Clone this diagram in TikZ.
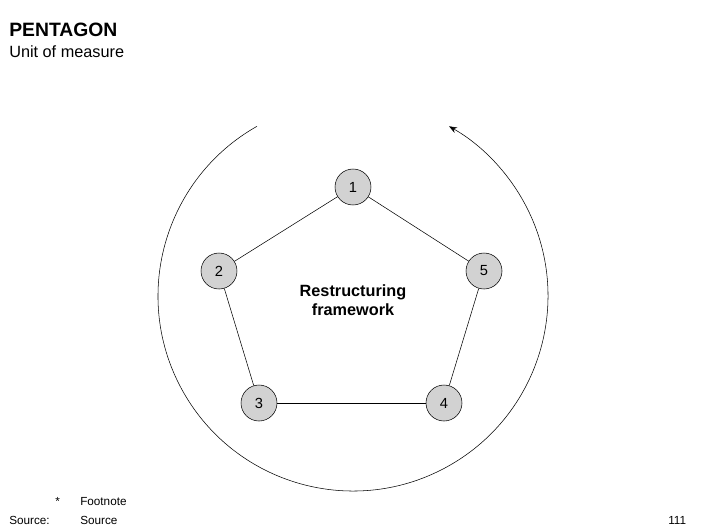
\documentclass[tikz,border=0pt]{standalone}
\usepackage{fontspec}
\setmainfont{Liberation Sans}
\usetikzlibrary{arrows.meta,positioning}
\tikzset{station/.style={draw,circle,fill=gray!35,minimum size=36*0.75pt,inner sep=0pt,font=\fontsize{11}{12}\selectfont},
  link/.style={thin},
  arr/.style={-{Stealth[length=6pt,width=4.5pt]},thin},
  note/.style={anchor=west,inner sep=0pt,font=\fontsize{8.8}{10}\selectfont}}
\begin{document}
\begin{tikzpicture}[x=0.75pt,y=-0.75pt]
\useasboundingbox (0,0) rectangle (706,529);
\node[anchor=west,inner sep=0pt,font=\bfseries\fontsize{14.5}{16}\selectfont] (title) at (9,30){PENTAGON};
\node[anchor=west,inner sep=0pt,font=\fontsize{12.2}{14}\selectfont] (unit) at (9,52){Unit of measure};
% cycle arrow
\draw[arr] (353,296) ++(-119.5:195) arc[start angle=-119.5,end angle=-420.5,radius=195];
\node[station] (n1) at (353,187){1};
\node[station] (n2) at (219,271){2};
\node[station] (n3) at (259,403){3};
\node[station] (n4) at (444,403){4};
\node[station] (n5) at (484,271){5};
\draw[link] (n1)--(n2); \draw[link] (n2)--(n3); \draw[link] (n3)--(n4);
\draw[link] (n4)--(n5); \draw[link] (n5)--(n1);
\node[align=center,font=\bfseries\fontsize{12.2}{14.5}\selectfont] (core) at (353,300){Restructuring\\framework};
\node[note,anchor=base west] (star) at (55,505){*}; \node[note] (foot) at (80,502){Footnote};
\node[note] (srclbl) at (9,520){Source:}; \node[note] (src) at (80,520){Source};
\node[note] (page) at (668,520){111};
\end{tikzpicture}
\end{document}
